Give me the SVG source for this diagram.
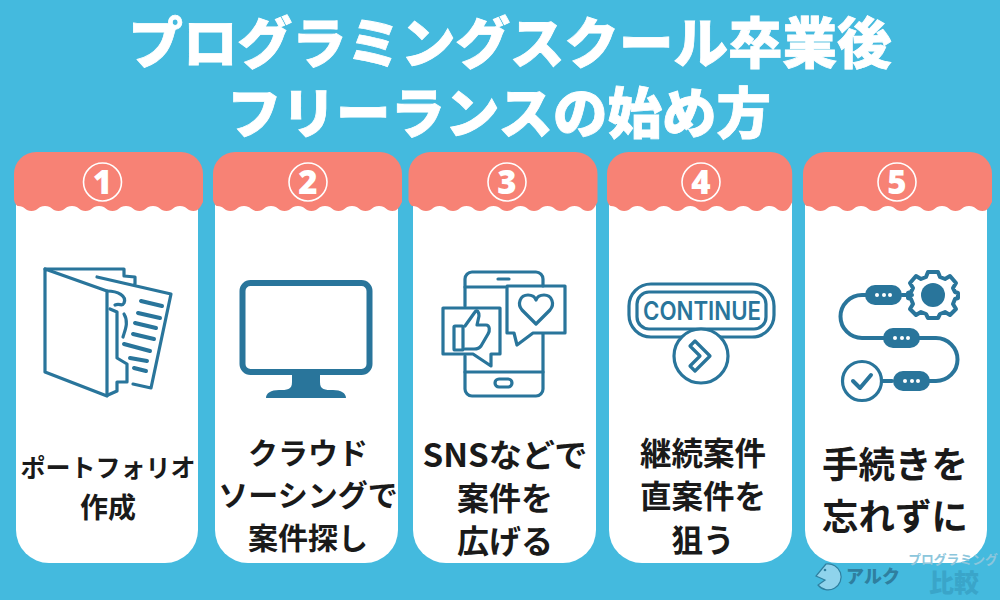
<svg xmlns="http://www.w3.org/2000/svg" width="1000" height="600" viewBox="0 0 1000 600">
<defs>
<style>
text{font-family:"Noto Sans CJK JP","Noto Sans",sans-serif;text-anchor:middle}
.title{font-size:54.500px;font-weight:900;fill:#fff;stroke:#fff;stroke-width:.8px}
.lbl{fill:#1a1a1a;font-weight:700}
.num{font-family:"Open Sans","Noto Sans",sans-serif;font-size:33px;font-weight:800;fill:#fff}
.ring{fill:none;stroke:#fff;stroke-width:1.6}
.card{fill:#fff}
.head{fill:#f78275}
.ic{fill:none;stroke:#29759b;stroke-width:3.200;stroke-linecap:round;stroke-linejoin:round}
.ict{fill:none;stroke:#29759b;stroke-width:4;stroke-linecap:round;stroke-linejoin:round}
.icf{fill:#29759b}
.dot{fill:#fff}
</style>
<path id="hd" class="head" d="M22 0H167a22 22 0 0 1 22 22V50C186 56 184 59 179.500 59C173 59 173 54 166 54C159 54 159 59 152.500 59C146 59 146 54 139 54C132 54 132 59 125.500 59C119 59 119 54 112 54C105 54 105 59 98.500 59C92 59 92 54 85 54C78 54 78 59 71.500 59C65 59 65 54 58 54C51 54 51 59 44.500 59C38 59 38 54 31 54C24 54 24 59 17.500 59C11 59 11 54 4 54C3 54 1 52 0 48V22A22 22 0 0 1 22 0Z"/>
</defs>
<rect width="1000" height="600" fill="#44bade"/>
<g id="title">
<text class="title" x="510" y="63">プログラミングスクール卒業後</text>
<text class="title" x="499" y="133">フリーランスの始め方</text>
</g>
<g id="node1">
<path class="card" d="M16 190H198V530a33 33 0 0 1-33 33H49a33 33 0 0 1-33-33Z"/>
<use href="#hd" x="14" y="152"/>
<circle class="ring" cx="102.500" cy="182" r="19"/><text class="num" x="102.500" y="194">1</text>
<path class="ic" d="M45 269V372L107 396V291Z"/>
<path class="ic" d="M45 269H124V276L135 277V285M97 277L171 294L151 388L133 384"/>
<path class="ic" d="M107 291C118 291 127 296 124 303C122 307 120 303 115 305M110 309L117 312V358L127 364V382H117V391L108 395"/>
<path class="ic" d="M124 314C129 322 125 330 123 337"/>
<path class="ict" d="M141 301L162 306M138 313L160 318M135 323L156 328M133 334L154 339M124 344L150 351M130 358L147 361M134 368L146 371"/>
</g>
<g id="node2">
<path class="card" d="M215 190H398V530a33 33 0 0 1-33 33H248a33 33 0 0 1-33-33Z"/>
<use href="#hd" x="213" y="152"/>
<circle class="ring" cx="308" cy="182" r="19"/><text class="num" x="308" y="194">2</text>
<rect x="242.500" y="283" width="127" height="89" rx="8" fill="none" stroke="#29759b" stroke-width="6"/>
<path class="icf" d="M292 374H320V382C320 390 325 390 333 390C341 390 346 393 346 398H266C266 393 271 390 279 390C287 390 292 390 292 382Z"/>
</g>
<g id="node3">
<path class="card" d="M413 190H596V530a33 33 0 0 1-33 33H446a33 33 0 0 1-33-33Z"/>
<use href="#hd" x="408.500" y="152"/>
<circle class="ring" cx="507" cy="182" r="19"/><text class="num" x="507" y="194">3</text>
<path class="ic" d="M465 306V279A7 7 0 0 1 472 272H536A7 7 0 0 1 543 279V286M543 334V389A7 7 0 0 1 536 396H472A7 7 0 0 1 465 389V356"/>
<path class="ic" d="M465 287H505M465 372H543M498 279H509"/>
<rect class="ic" x="495" y="379" width="17" height="8" rx="4"/>
<path class="ic" d="M507 286H565V333H533L517 345L514 333H507Z"/>
<path class="ic" d="M536 324L522 310C517 304 520 295 528 295C532 295 535 297 536 300C537 297 540 295 544 295C552 295 555 304 550 310Z"/>
<path class="ic" d="M443 308H500V354H491V366L473 354H443Z"/>
<rect class="ic" x="454" y="326" width="9" height="24" rx="1"/>
<path class="ic" d="M465 326L475 312C477 309 479 312 479 316L477 325H486C490 325 490 331 488 334L481 346C479 349 477 349 474 349H465"/>
</g>
<g id="node4">
<path class="card" d="M609 190H792V530a33 33 0 0 1-33 33H642a33 33 0 0 1-33-33Z"/>
<use href="#hd" transform="translate(607 152) scale(.98 1)"/>
<circle class="ring" cx="701" cy="182" r="19"/><text class="num" x="701" y="194">4</text>
<rect class="ic" x="629" y="284" width="145" height="53" rx="22"/>
<rect class="ic" x="637" y="292" width="129" height="37" rx="12"/>
<text x="702" y="320" font-size="25" font-weight="600" fill="#29759b" textLength="118" lengthAdjust="spacingAndGlyphs" style="font-family:Inter,'Liberation Sans',sans-serif">CONTINUE</text>
<circle cx="701" cy="356" r="27" fill="#fff" stroke="#29759b" stroke-width="3.200"/>
<path class="ic" d="M695 341L690 346L700 356L690 366L695 371L710 356Z"/>
</g>
<g id="node5">
<path class="card" d="M805 190H987V530a33 33 0 0 1-33 33H838a33 33 0 0 1-33-33Z"/>
<use href="#hd" x="803" y="152"/>
<circle class="ring" cx="897" cy="182" r="19"/><text class="num" x="897" y="194">5</text>
<path class="ict" d="M866 295H862A21.500 21.500 0 0 0 862 338H888M918 338H936A21.500 21.500 0 0 1 936 381H928M902 295H912M882 381H892"/>
<rect class="icf" x="865" y="285" width="37" height="20" rx="10"/>
<rect class="icf" x="883" y="328" width="37" height="20" rx="10"/>
<rect class="icf" x="893" y="371" width="37" height="20" rx="10"/>
<circle class="dot" cx="877" cy="295" r="2"/><circle class="dot" cx="884" cy="295" r="2"/><circle class="dot" cx="890" cy="295" r="2"/>
<circle class="dot" cx="895" cy="338" r="2"/><circle class="dot" cx="902" cy="338" r="2"/><circle class="dot" cx="908" cy="338" r="2"/>
<circle class="dot" cx="905" cy="381" r="2"/><circle class="dot" cx="912" cy="381" r="2"/><circle class="dot" cx="918" cy="381" r="2"/>
<circle cx="933" cy="295" r="12" class="icf"/>
<path class="ict" d="M928 272H938L940 277L945 279L950 276L956 283L953 288L955 292L958 293V298L955 299L953 304L956 309L950 315L945 312L940 314L938 318H928L926 314L921 312L916 315L910 309L913 304L911 299L908 298V293L911 292L913 288L910 283L916 276L921 279L926 277Z"/>
<circle cx="862" cy="381" r="19.500" fill="#fff" stroke="#29759b" stroke-width="3.200"/>
<path class="ict" d="M853 381L860 388L871 375"/>
</g>
<g id="labels">
<text class="lbl" x="108" y="477" font-size="25">ポートフォリオ</text>
<text class="lbl" x="108" y="518" font-size="28">作成</text>
<text class="lbl" x="308" y="464" font-size="30">クラウド</text>
<text class="lbl" x="308" y="506" font-size="30">ソーシングで</text>
<text class="lbl" x="308" y="549" font-size="30">案件探し</text>
<text class="lbl" x="505" y="467" font-size="32" textLength="165" lengthAdjust="spacingAndGlyphs">SNSなどで</text>
<text class="lbl" x="505" y="510" font-size="32">案件を</text>
<text class="lbl" x="505" y="553" font-size="32">広げる</text>
<text class="lbl" x="703" y="465" font-size="31.500">継続案件</text>
<text class="lbl" x="703" y="508" font-size="31.500">直案件を</text>
<text class="lbl" x="703" y="552" font-size="31.500">狙う</text>
<text class="lbl" x="895" y="478" font-size="36.500">手続きを</text>
<text class="lbl" x="895" y="530" font-size="36.500">忘れずに</text>
</g>
<g id="watermark">
<path d="M826 564L816 576L825 580L818 585A13 13 0 1 0 826 564Z" fill="#8fd3ec" stroke="#2f7f9f" stroke-width="1.200"/>
<circle cx="825" cy="570" r="1.300" fill="#2f7f9f"/>
<text x="873" y="583" font-size="18" font-weight="900" fill="#2f7f9f">アルク</text>
<text x="953" y="564" font-size="12.800" font-weight="700" fill="#8cc6dc">プログラミング</text>
<text x="954" y="592" font-size="25" font-weight="900" fill="#3aa5c9">比較</text>
</g>
</svg>
